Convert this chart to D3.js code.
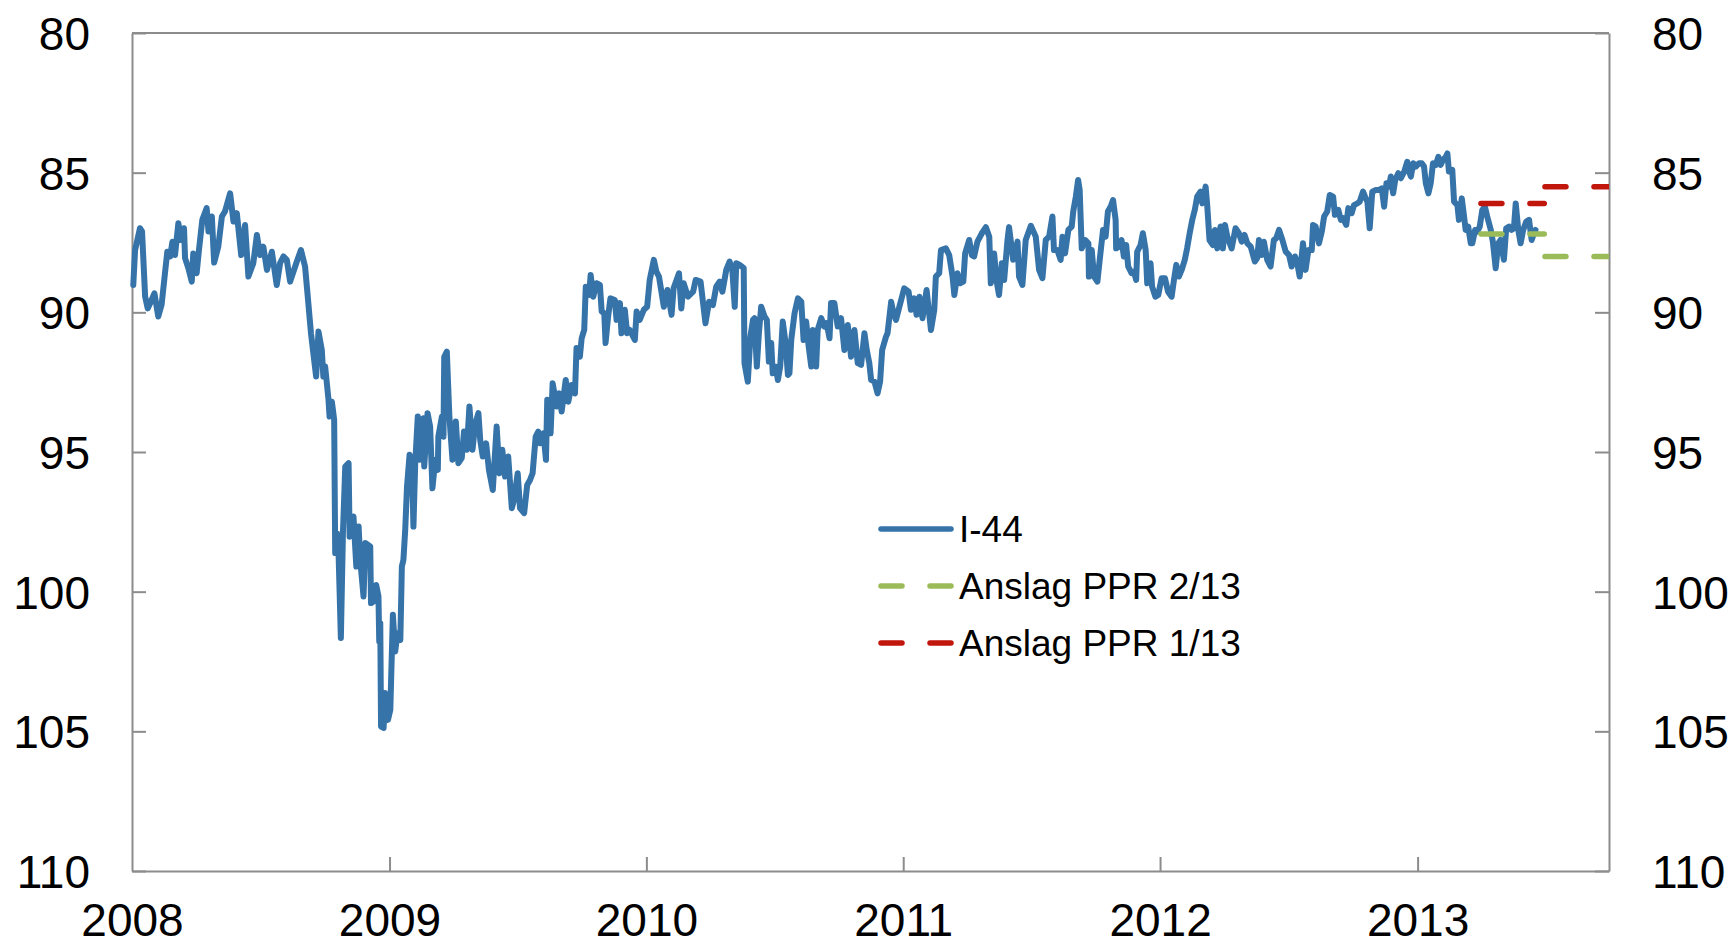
<!DOCTYPE html>
<html>
<head>
<meta charset="utf-8">
<script src="https://cdn.jsdelivr.net/npm/d3@7"></script>
<style>
  body { margin: 0; background: #fff; }
  svg text { font-family: "Liberation Sans", Arial, sans-serif; fill: #000; }
</style>
</head>
<body>
<svg class="i44-frame"></svg>
<script>
// I-44, daily index: [decimal year, value]
const i44 = [
  [2008.005, 89.02], [2008.012, 87.77], [2008.031, 86.99], [2008.039, 87.1], [2008.051, 89.44],
  [2008.061, 89.86], [2008.074, 89.6], [2008.087, 89.32], [2008.102, 90.15], [2008.115, 89.73],
  [2008.128, 88.6], [2008.137, 87.83], [2008.148, 88.0], [2008.157, 87.47], [2008.167, 87.95],
  [2008.180, 86.81], [2008.190, 87.41], [2008.202, 86.99], [2008.206, 88.06], [2008.219, 88.42],
  [2008.232, 88.9], [2008.238, 87.89], [2008.251, 88.6], [2008.260, 87.77], [2008.273, 86.69],
  [2008.290, 86.27], [2008.297, 87.11], [2008.310, 86.57], [2008.319, 88.22], [2008.335, 87.65],
  [2008.349, 86.57], [2008.361, 86.39], [2008.381, 85.74], [2008.394, 86.75], [2008.407, 86.45],
  [2008.424, 87.95], [2008.439, 86.87], [2008.452, 88.72], [2008.471, 88.24], [2008.485, 87.23],
  [2008.497, 87.95], [2008.510, 87.65], [2008.524, 88.48], [2008.543, 87.83], [2008.562, 89.02],
  [2008.575, 88.24], [2008.588, 88.0], [2008.601, 88.12], [2008.614, 88.9], [2008.640, 88.18],
  [2008.656, 87.77], [2008.672, 88.36], [2008.679, 89.08], [2008.695, 90.75], [2008.715, 92.3],
  [2008.724, 90.69], [2008.737, 91.35], [2008.743, 92.3], [2008.750, 91.94], [2008.763, 93.13],
  [2008.767, 93.73], [2008.776, 93.2], [2008.785, 93.85], [2008.789, 98.62], [2008.796, 97.91],
  [2008.802, 98.62], [2008.811, 101.66], [2008.819, 97.91], [2008.828, 95.52], [2008.841, 95.4],
  [2008.845, 98.03], [2008.860, 97.31], [2008.871, 99.1], [2008.880, 97.67], [2008.886, 98.86],
  [2008.899, 100.17], [2008.906, 98.26], [2008.925, 98.38], [2008.928, 100.41], [2008.938, 100.35],
  [2008.948, 99.76], [2008.957, 100.17], [2008.960, 101.78], [2008.964, 101.13], [2008.967, 104.83],
  [2008.977, 104.88], [2008.983, 103.63], [2008.994, 104.59], [2009.003, 104.23], [2009.013, 100.83],
  [2009.022, 102.14], [2009.031, 101.49], [2009.042, 101.73], [2009.048, 99.1], [2009.054, 98.86],
  [2009.061, 97.79], [2009.068, 96.24], [2009.078, 95.1], [2009.087, 95.28], [2009.093, 97.67],
  [2009.100, 95.4], [2009.110, 93.73], [2009.119, 95.28], [2009.132, 93.79], [2009.135, 95.52],
  [2009.148, 93.61], [2009.158, 94.09], [2009.167, 96.3], [2009.178, 95.28], [2009.188, 95.64],
  [2009.190, 94.45], [2009.204, 93.73], [2009.210, 94.45], [2009.213, 91.59], [2009.223, 91.41],
  [2009.233, 93.73], [2009.245, 95.28], [2009.258, 93.91], [2009.268, 95.4], [2009.281, 95.22],
  [2009.290, 94.27], [2009.301, 94.92], [2009.311, 93.37], [2009.323, 94.92], [2009.333, 94.03],
  [2009.346, 93.61], [2009.353, 94.57], [2009.363, 95.16], [2009.376, 94.69], [2009.387, 95.64],
  [2009.402, 96.36], [2009.417, 94.09], [2009.428, 95.76], [2009.439, 94.92], [2009.450, 95.88],
  [2009.462, 95.16], [2009.476, 97.01], [2009.485, 96.71], [2009.499, 95.76], [2009.508, 97.01],
  [2009.524, 97.19], [2009.536, 96.18], [2009.547, 96.0], [2009.557, 95.76], [2009.569, 94.45],
  [2009.579, 94.27], [2009.586, 94.69], [2009.599, 94.33], [2009.609, 95.28], [2009.614, 93.13],
  [2009.627, 94.33], [2009.635, 92.54], [2009.651, 93.37], [2009.661, 92.9], [2009.670, 93.55],
  [2009.686, 92.42], [2009.696, 93.2], [2009.709, 92.6], [2009.722, 92.9], [2009.728, 91.28],
  [2009.741, 91.59], [2009.748, 90.93], [2009.758, 90.63], [2009.764, 89.08], [2009.777, 89.38],
  [2009.783, 88.66], [2009.793, 89.44], [2009.806, 88.96], [2009.819, 89.02], [2009.826, 89.97],
  [2009.836, 90.03], [2009.841, 91.1], [2009.851, 90.15], [2009.860, 89.5], [2009.877, 89.56],
  [2009.884, 90.27], [2009.897, 89.67], [2009.903, 90.75], [2009.916, 89.91], [2009.925, 90.75],
  [2009.935, 90.63], [2009.955, 90.99], [2009.962, 89.97], [2009.974, 90.27], [2009.990, 89.91],
  [2010.003, 89.8], [2010.013, 88.84], [2010.029, 88.12], [2010.039, 88.54], [2010.049, 88.72],
  [2010.068, 89.8], [2010.082, 89.2], [2010.098, 90.09], [2010.106, 89.14], [2010.127, 88.6],
  [2010.136, 89.86], [2010.145, 88.96], [2010.162, 89.44], [2010.182, 89.26], [2010.192, 88.84],
  [2010.211, 88.9], [2010.230, 90.39], [2010.244, 89.62], [2010.259, 89.74], [2010.272, 89.08],
  [2010.285, 88.9], [2010.296, 89.26], [2010.311, 88.48], [2010.324, 88.18], [2010.335, 88.54],
  [2010.344, 89.8], [2010.350, 88.24], [2010.363, 88.3], [2010.379, 88.42], [2010.382, 91.82],
  [2010.395, 92.48], [2010.405, 90.87], [2010.415, 90.27], [2010.421, 90.21], [2010.430, 91.94],
  [2010.438, 90.75], [2010.447, 89.8], [2010.460, 90.15], [2010.469, 90.27], [2010.477, 91.76],
  [2010.486, 91.1], [2010.492, 92.18], [2010.503, 91.94], [2010.512, 92.42], [2010.521, 91.94],
  [2010.531, 90.33], [2010.542, 91.1], [2010.551, 92.24], [2010.557, 92.18], [2010.564, 90.99],
  [2010.577, 90.03], [2010.590, 89.5], [2010.603, 89.62], [2010.612, 90.99], [2010.622, 90.33],
  [2010.632, 91.23], [2010.642, 91.94], [2010.648, 90.63], [2010.661, 91.94], [2010.667, 90.63],
  [2010.681, 90.21], [2010.693, 90.51], [2010.702, 90.39], [2010.713, 90.93], [2010.719, 89.67],
  [2010.732, 89.67], [2010.745, 90.51], [2010.758, 90.21], [2010.771, 91.35], [2010.784, 90.45],
  [2010.797, 91.59], [2010.810, 90.63], [2010.823, 91.82], [2010.836, 91.88], [2010.849, 90.75],
  [2010.858, 91.35], [2010.868, 91.82], [2010.875, 92.42], [2010.888, 92.48], [2010.900, 92.9],
  [2010.910, 92.48], [2010.918, 91.35], [2010.933, 90.87], [2010.939, 90.75], [2010.953, 89.62],
  [2010.962, 90.03], [2010.972, 90.27], [2010.985, 89.8], [2011.004, 89.14], [2011.021, 89.26],
  [2011.030, 89.91], [2011.043, 89.5], [2011.052, 90.09], [2011.063, 89.44], [2011.075, 90.21],
  [2011.091, 89.2], [2011.108, 90.63], [2011.121, 89.91], [2011.127, 88.72], [2011.140, 88.6],
  [2011.147, 87.77], [2011.166, 87.71], [2011.179, 87.95], [2011.192, 88.72], [2011.199, 89.38],
  [2011.211, 88.6], [2011.221, 88.96], [2011.234, 88.9], [2011.241, 87.89], [2011.257, 87.41],
  [2011.267, 87.95], [2011.276, 88.0], [2011.289, 87.47], [2011.306, 87.17], [2011.322, 86.95],
  [2011.335, 87.29], [2011.341, 88.96], [2011.354, 87.89], [2011.363, 88.84], [2011.373, 89.38],
  [2011.384, 88.24], [2011.393, 88.84], [2011.406, 87.41], [2011.412, 86.95], [2011.428, 88.12],
  [2011.445, 87.47], [2011.451, 88.72], [2011.464, 89.02], [2011.477, 87.41], [2011.497, 86.9],
  [2011.516, 87.29], [2011.529, 88.48], [2011.542, 88.78], [2011.555, 87.41], [2011.568, 87.29],
  [2011.581, 86.57], [2011.587, 87.77], [2011.600, 87.77], [2011.613, 88.12], [2011.620, 87.29],
  [2011.630, 87.89], [2011.643, 87.05], [2011.656, 86.93], [2011.662, 86.39], [2011.672, 85.86],
  [2011.681, 85.26], [2011.687, 85.62], [2011.695, 87.71], [2011.708, 87.41], [2011.721, 87.53],
  [2011.723, 88.72], [2011.734, 87.77], [2011.743, 88.72], [2011.756, 88.9], [2011.765, 88.12],
  [2011.778, 87.05], [2011.788, 87.29], [2011.797, 86.39], [2011.808, 86.21], [2011.817, 85.98],
  [2011.827, 86.69], [2011.829, 87.71], [2011.840, 87.65], [2011.850, 87.41], [2011.859, 88.0],
  [2011.868, 87.59], [2011.876, 88.36], [2011.889, 88.6], [2011.898, 88.54], [2011.907, 88.84],
  [2011.911, 87.83], [2011.924, 87.59], [2011.933, 87.17], [2011.944, 87.77], [2011.950, 88.96],
  [2011.963, 88.24], [2011.969, 89.08], [2011.982, 89.44], [2011.993, 89.38], [2011.998, 89.14],
  [2012.006, 88.78], [2012.019, 88.78], [2012.031, 89.26], [2012.045, 89.44], [2012.054, 88.84],
  [2012.063, 88.3], [2012.073, 88.72], [2012.084, 88.48], [2012.096, 88.12], [2012.105, 87.71],
  [2012.115, 87.17], [2012.125, 86.69], [2012.135, 86.33], [2012.144, 85.86], [2012.157, 85.68],
  [2012.164, 86.1], [2012.177, 85.5], [2012.183, 86.16], [2012.192, 87.41], [2012.205, 87.59],
  [2012.213, 87.05], [2012.222, 87.71], [2012.235, 86.93], [2012.244, 87.71], [2012.252, 86.87],
  [2012.261, 87.29], [2012.278, 87.71], [2012.293, 86.99], [2012.306, 87.17], [2012.317, 87.47],
  [2012.328, 87.23], [2012.339, 87.53], [2012.352, 87.65], [2012.368, 88.18], [2012.377, 88.06],
  [2012.384, 87.41], [2012.394, 87.95], [2012.403, 87.47], [2012.416, 88.12], [2012.429, 88.36],
  [2012.442, 87.41], [2012.451, 87.35], [2012.462, 87.05], [2012.475, 87.41], [2012.488, 87.83],
  [2012.501, 87.95], [2012.511, 88.36], [2012.524, 88.0], [2012.533, 88.24], [2012.542, 88.72],
  [2012.555, 87.53], [2012.565, 88.48], [2012.576, 87.77], [2012.589, 87.77], [2012.594, 86.87],
  [2012.604, 86.93], [2012.617, 87.53], [2012.628, 87.11], [2012.637, 86.57], [2012.649, 86.39],
  [2012.659, 85.8], [2012.672, 85.86], [2012.679, 86.51], [2012.692, 86.33], [2012.702, 86.69],
  [2012.710, 86.63], [2012.723, 86.87], [2012.731, 86.27], [2012.744, 86.45], [2012.753, 86.16],
  [2012.766, 86.1], [2012.775, 86.04], [2012.788, 85.68], [2012.796, 85.86], [2012.805, 86.04],
  [2012.814, 86.99], [2012.824, 85.68], [2012.838, 85.62], [2012.850, 85.62], [2012.861, 85.56],
  [2012.870, 86.22], [2012.879, 85.38], [2012.889, 85.5], [2012.896, 85.14], [2012.905, 85.74],
  [2012.913, 85.26], [2012.925, 85.02], [2012.935, 85.2], [2012.948, 84.96], [2012.960, 84.61],
  [2012.967, 84.96], [2012.974, 85.14], [2012.983, 84.66], [2012.993, 84.78], [2013.006, 84.66],
  [2013.016, 84.66], [2013.025, 84.78], [2013.032, 85.38], [2013.042, 85.74], [2013.051, 85.38],
  [2013.060, 84.66], [2013.071, 84.72], [2013.081, 84.43], [2013.090, 84.72], [2013.099, 84.54],
  [2013.110, 84.43], [2013.116, 84.31], [2013.122, 84.96], [2013.135, 84.9], [2013.142, 86.04],
  [2013.155, 86.16], [2013.161, 86.69], [2013.172, 85.92], [2013.181, 86.57], [2013.187, 87.05],
  [2013.197, 86.93], [2013.207, 87.53], [2013.213, 87.53], [2013.224, 87.05], [2013.232, 87.11],
  [2013.242, 86.93], [2013.252, 86.33], [2013.262, 86.22], [2013.271, 86.57], [2013.285, 87.05],
  [2013.293, 87.47], [2013.304, 88.42], [2013.314, 87.53], [2013.323, 87.41], [2013.336, 88.12],
  [2013.345, 86.99], [2013.356, 86.93], [2013.366, 87.05], [2013.375, 86.99], [2013.382, 86.1],
  [2013.392, 87.05], [2013.401, 87.53], [2013.411, 87.05], [2013.423, 86.75], [2013.434, 86.69],
  [2013.444, 87.41], [2013.453, 87.17], [2013.459, 87.05]
];

// quarterly forecasts
const quarterStart = ["2013-04-01", "2013-07-01"];
const quarterEnd = ["2013-06-30", "2013-09-30"];
const pprTwo = [87.2, 88.0];
const pprOne = [86.1, 85.5];

const yTicks = [80, 85, 90, 95, 100, 105, 110];
const xTickYears = [2008, 2009, 2010, 2011, 2012, 2013];
const legendLabels = ["I-44", "Anslag PPR 2/13", "Anslag PPR 1/13"];

const blue = "#3573a9", green = "#9bbb59", red = "#c0160c", grey = "#8c8c8c";

const W = 1735, H = 946;
const margin = {top: 33, right: 126, bottom: 75, left: 132}
  , width = W - margin.left - margin.right
  , height = H - margin.top - margin.bottom;

const svg = d3.select(".i44-frame")
  .attr("width", W)
  .attr("height", H)

const graph = svg.append("g")
  .attr("transform", "translate(" + margin.left + "," + margin.top + ")")

function yearToDate(t) {
  const y = Math.floor(t)
  const start = new Date(y, 0, 1), end = new Date(y + 1, 0, 1)
  return new Date(+start + (t - y) * (end - start))
}
const parse = d3.timeParse("%Y-%m-%d")

const xScale = d3.scaleTime()
  .domain([new Date(2008, 0, 1), new Date(2013, 8, 30)])
  .range([0, width]);

const yScale = d3.scaleLinear()
  .domain([80, 110])
  .range([0, height]);

graph.append("defs").append("clipPath").attr("id", "plot")
  .append("rect").attr("width", width).attr("height", height)

// axes
const axisStyle = (g) => {
  g.selectAll(".domain, .tick line").attr("stroke", grey).attr("stroke-width", 2)
  g.selectAll("text").attr("font-size", "46px").attr("fill", "#000")
    .attr("font-family", "'Liberation Sans', Arial, sans-serif")
}

graph.append("g")
  .call(d3.axisLeft(yScale).tickValues(yTicks).tickSizeInner(-14).tickSizeOuter(0).tickPadding(42))
  .call(axisStyle)
  .selectAll("text").attr("dy", "0.36em")

graph.append("g")
  .attr("transform", "translate(" + width + ",0)")
  .call(d3.axisRight(yScale).tickValues(yTicks).tickSizeInner(-14).tickSizeOuter(0).tickPadding(43))
  .call(axisStyle)
  .selectAll("text").attr("dy", "0.36em")

graph.append("g")
  .attr("transform", "translate(0," + height + ")")
  .call(d3.axisBottom(xScale)
    .tickValues(xTickYears.map(y => new Date(y, 0, 1)))
    .tickFormat(d3.timeFormat("%Y"))
    .tickSizeInner(-14).tickSizeOuter(0).tickPadding(32))
  .call(axisStyle)
  .call(g => g.selectAll(".tick").filter((d, i) => i === 0).select("line").remove())

graph.append("line")
  .attr("x1", 0).attr("x2", width).attr("y1", 0).attr("y2", 0)
  .attr("stroke", grey).attr("stroke-width", 2)

// I-44 line
const line = d3.line()
  .x(d => xScale(yearToDate(d[0])))
  .y(d => yScale(d[1]));

graph.append("path")
  .datum(i44)
  .attr("fill", "none")
  .attr("stroke", blue)
  .attr("stroke-width", 6)
  .attr("stroke-linejoin", "round")
  .attr("stroke-linecap", "round")
  .attr("d", line)

// forecasts, one dashed segment per quarter
const dash = "21,28"
function drawForecast(values, colour) {
  graph.append("g").attr("clip-path", "url(#plot)")
    .selectAll("line")
    .data(values)
    .enter().append("line")
    .attr("x1", (d, i) => xScale(parse(quarterStart[i])))
    .attr("x2", (d, i) => xScale(parse(quarterEnd[i])))
    .attr("y1", d => yScale(d))
    .attr("y2", d => yScale(d))
    .attr("stroke", colour)
    .attr("stroke-width", 5.5)
    .attr("stroke-linecap", "round")
    .attr("stroke-dasharray", dash)
}
drawForecast(pprTwo, green)
drawForecast(pprOne, red)

// legend
const legend = svg.append("g").attr("transform", "translate(881,529)")
const styles = [[blue, null], [green, dash], [red, dash]]
legendLabels.forEach((label, i) => {
  const row = legend.append("g").attr("transform", "translate(0," + (i * 57) + ")")
  row.append("line")
    .attr("x1", 0).attr("x2", 70)
    .attr("stroke", styles[i][0])
    .attr("stroke-width", 5.5)
    .attr("stroke-linecap", "round")
    .attr("stroke-dasharray", styles[i][1])
  row.append("text")
    .attr("x", 78)
    .attr("dy", "0.36em")
    .attr("font-size", "37px")
    .text(label)
})
</script>
</body>
</html>
